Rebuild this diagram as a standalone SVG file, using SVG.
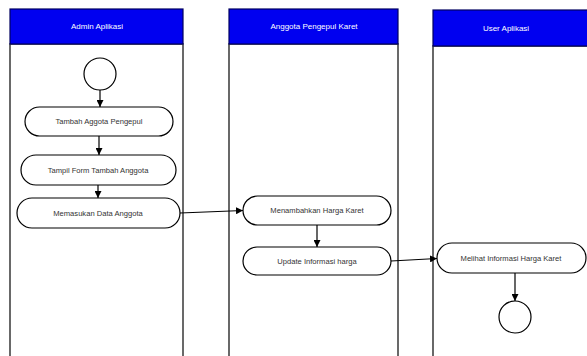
<svg xmlns="http://www.w3.org/2000/svg" width="587" height="356" viewBox="0 0 587 356">
<defs>
<marker id="arr" viewBox="0 0 10 10" refX="10" refY="5" markerWidth="7" markerHeight="7" markerUnits="userSpaceOnUse" orient="auto">
<path d="M0,0 L10,5 L0,10 z" fill="#000"/>
</marker>
<style>
.lane{fill:#fff;stroke:#444;stroke-width:1.6}
.head{fill:#0000f0;stroke:#000060;stroke-width:1.2}
.htxt{font-family:"Liberation Sans",Arial,sans-serif;font-size:8px;fill:#fff;text-anchor:middle}
.act{fill:#fff;stroke:#000;stroke-width:1.2}
.atxt{font-family:"Liberation Sans",Arial,sans-serif;font-size:7.6px;fill:#333;text-anchor:middle}
.node-c{fill:#fff;stroke:#000;stroke-width:1.2}
.edge{fill:none;stroke:#000;stroke-width:1.2;marker-end:url(#arr)}
</style>
</defs>
<rect width="587" height="356" fill="#fff"/>

<g id="lane-admin">
<rect class="lane" x="10" y="44" width="173" height="320"/>
<rect class="head" x="10" y="9" width="173" height="35"/>
<text class="htxt" x="97" y="29">Admin Aplikasi</text>
</g>
<g id="lane-anggota">
<rect class="lane" x="229" y="44" width="169" height="320"/>
<rect class="head" x="229" y="9" width="169" height="35"/>
<text class="htxt" x="314" y="29">Anggota Pengepul Karet</text>
</g>
<g id="lane-user">
<rect class="lane" x="433" y="46" width="170" height="320"/>
<rect class="head" x="433" y="10" width="170" height="36"/>
<text class="htxt" x="506" y="31">User Aplikasi</text>
</g>

<g id="start">
<circle class="node-c" cx="100" cy="74" r="16"/>
</g>
<g id="act-tambah">
<rect class="act" x="25" y="107" width="148" height="29" rx="14.5"/>
<text class="atxt" x="99" y="124">Tambah Aggota Pengepul</text>
</g>
<g id="act-tampil">
<rect class="act" x="21" y="155" width="155" height="30" rx="15"/>
<text class="atxt" x="98" y="173">Tampil Form Tambah Anggota</text>
</g>
<g id="act-memasukan">
<rect class="act" x="17" y="198" width="163" height="30" rx="15"/>
<text class="atxt" x="98" y="216">Memasukan Data Anggota</text>
</g>
<g id="act-menambahkan">
<rect class="act" x="243" y="196" width="148" height="29" rx="14.5"/>
<text class="atxt" x="317" y="213">Menambahkan Harga Karet</text>
</g>
<g id="act-update">
<rect class="act" x="243" y="247" width="148" height="28" rx="14"/>
<text class="atxt" x="317" y="264">Update Informasi harga</text>
</g>
<g id="act-melihat">
<rect class="act" x="437" y="243" width="149" height="30" rx="15"/>
<text class="atxt" x="511" y="261">Melihat Informasi Harga Karet</text>
</g>
<g id="end">
<circle class="node-c" cx="515" cy="317" r="16"/>
</g>

<g id="connectors">
<line class="edge" x1="100" y1="90" x2="100" y2="107"/>
<line class="edge" x1="99" y1="136" x2="99" y2="155"/>
<line class="edge" x1="98" y1="185" x2="98" y2="198"/>
<line class="edge" x1="180" y1="213" x2="243" y2="210.5"/>
<line class="edge" x1="317" y1="225" x2="317" y2="247"/>
<line class="edge" x1="391" y1="261" x2="437" y2="258.5"/>
<line class="edge" x1="515" y1="273" x2="515" y2="301"/>
</g>
</svg>
